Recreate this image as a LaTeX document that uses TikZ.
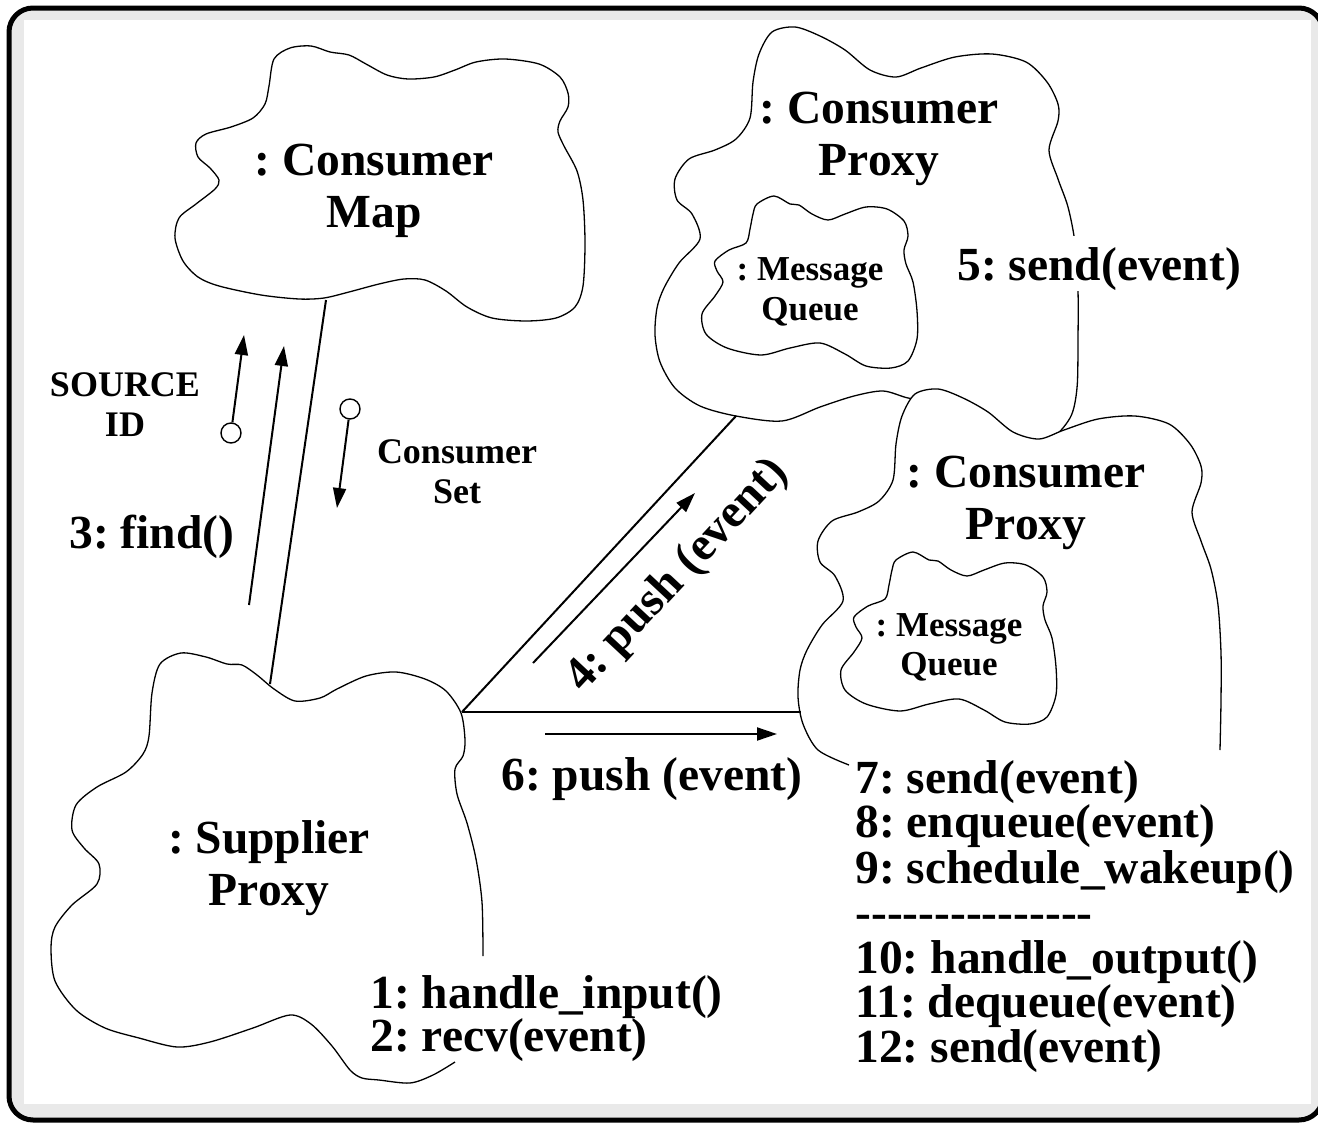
\documentclass[tikz,border=0pt]{standalone}
\usepackage{fontspec}
\setmainfont{Liberation Serif}
\usetikzlibrary{arrows.meta}
\definecolor{frameshade}{HTML}{E9E9E9}
\frenchspacing
\tikzset{
  lblbig/.style={font=\fontsize{23.75}{28}\selectfont\bfseries\frenchspacing, inner sep=0pt, anchor=base},
  lblsmall/.style={font=\fontsize{18}{21}\selectfont\bfseries\frenchspacing, inner sep=0pt, anchor=base},
  lblmq/.style={font=\fontsize{17.5}{21}\selectfont\bfseries\frenchspacing, inner sep=0pt, anchor=base},
  cloudline/.style={line width=0.65pt},
  conn/.style={line width=1pt},
  arr/.style={line width=1pt, -{Triangle[length=10pt,width=6.5pt]}},
  dot/.style={circle, draw, line width=0.7pt, minimum size=10pt, inner sep=0pt, fill=white},
}
\begin{document}
\begin{tikzpicture}[x=0.5pt,y=-0.5pt]
\useasboundingbox (0,0) rectangle (1318,1124);
% frame
\draw[line width=2.5pt, fill=frameshade, rounded corners=12pt] (9,8) rectangle (1323,1120);
\fill[white] (24,20) rectangle (1311,1104);

% Consumer Map cloud
\draw[cloudline] plot[smooth cycle] coordinates {
 (274,59) (290,48) (311,46) (330,52) (349,55) (366,64) (387,75) (408,79) (434,77) (455,70)
 (476,62) (505,59) (539,64) (560,77) (568,93) (568,107) (560,121) (558,132) (564,146)
 (577,171) (583,200) (585,243) (583,286) (575,307) (556,318) (526,321) (492,318) (467,307)
 (446,291) (425,280) (404,279) (379,284) (349,292) (324,298) (299,299) (261,295) (219,286)
 (198,277) (183,261) (175,238) (179,218) (196,204) (215,189) (219,180) (210,168) (198,157)
 (196,143) (206,134) (231,127) (253,118) (265,104) (269,86)};

% Consumer Proxy 1 cloud (closed)
\filldraw[cloudline, fill=white] plot[smooth cycle] coordinates {
 (700,406) (675,388) (660,362) (655,335) (657,308) (664,288) (679,263) (700,239) (692,214)
 (677,200) (675,179) (689,159) (715,150) (736,139) (750,118) (753,82) (759,54) (772,32)
 (795,27) (820,36) (845,50) (870,70) (896,77) (921,68) (955,57) (992,54) (1026,62) (1047,82)
 (1058,104) (1058,121) (1049,150) (1058,179) (1068,207) (1075,243) (1078,291) (1078,339)
 (1077,388) (1070,418) (1047,441) (1010,436) (970,418) (935,402) (908,398) (883,391)
 (854,396) (820,407) (782,421) (736,416)};

% Message Queue 1
\filldraw[cloudline, fill=white] plot[smooth cycle] coordinates {
 (757,204) (774,196) (790,204) (799,205) (812,214) (828,220) (845,214) (866,207) (887,209)
 (904,221) (908,236) (904,250) (906,264) (913,282) (917,311) (917,339) (908,361) (891,368)
 (866,366) (845,354) (820,343) (790,348) (761,355) (727,348) (706,334) (702,314) (715,296)
 (723,282) (717,271) (715,261) (729,250) (746,243) (750,229) (753,214)};

% Consumer Proxy 2 cloud (open at the bottom)
\begin{scope}[shift={(143,362)}]
\fill[white] plot[smooth cycle] coordinates {
 (700,406) (675,388) (660,362) (655,335) (657,308) (664,288) (679,263) (700,239) (692,214)
 (677,200) (675,179) (689,159) (715,150) (736,139) (750,118) (753,82) (759,54) (772,32)
 (795,27) (820,36) (845,50) (870,70) (896,77) (921,68) (955,57) (992,54) (1026,62) (1047,82)
 (1058,104) (1058,121) (1049,150) (1058,179) (1068,207) (1075,243) (1078,291) (1078,339)
 (1077,388) (1070,418) (1047,441) (1010,436) (970,418) (935,402) (908,398) (883,391)
 (854,396) (820,407) (782,421) (736,416)};
\draw[cloudline] plot[smooth] coordinates {
 (706,403) (675,388) (660,362) (655,335) (657,308) (664,288) (679,263) (700,239) (692,214)
 (677,200) (675,179) (689,159) (715,150) (736,139) (750,118) (753,82) (759,54) (772,32)
 (795,27) (820,36) (845,50) (870,70) (896,77) (921,68) (955,57) (992,54) (1026,62) (1047,82)
 (1058,104) (1058,121) (1049,150) (1058,179) (1068,207) (1075,243) (1078,291) (1078,339)
 (1077,388)};
\end{scope}

% Message Queue 2
\begin{scope}[shift={(139,356)}]
\filldraw[cloudline, fill=white] plot[smooth cycle] coordinates {
 (757,204) (774,196) (790,204) (799,205) (812,214) (828,220) (845,214) (866,207) (887,209)
 (904,221) (908,236) (904,250) (906,264) (913,282) (917,311) (917,339) (908,361) (891,368)
 (866,366) (845,354) (820,343) (790,348) (761,355) (727,348) (706,334) (702,314) (715,296)
 (723,282) (717,271) (715,261) (729,250) (746,243) (750,229) (753,214)};
\end{scope}

% Supplier Proxy cloud (open)
\draw[cloudline] plot[smooth] coordinates {
 (455,1062) (433,1075) (410,1083) (379,1080) (362,1078) (350,1070) (332,1046) (311,1024)
 (290,1015) (253,1028) (210,1042) (177,1047) (139,1038) (105,1028) (76,1010) (55,981)
 (51,948) (55,927) (72,905) (97,884) (99,864) (84,848) (72,830) (76,805) (97,787) (126,772)
 (143,754) (149,736) (152,693) (160,664) (181,653) (206,657) (227,664) (242,665) (257,675)
 (274,689) (295,701) (320,698) (337,689) (366,676) (396,672) (425,679) (446,691) (461,713)
 (465,740) (463,756) (455,769) (457,794) (467,823) (476,859) (482,902) (483,956)};

% connection points
\coordinate (mapS) at (326,300);
\coordinate (supN) at (270,684);
\coordinate (supE) at (462,712);
\coordinate (cpAS) at (736,416);
\coordinate (cpBW) at (801,712);
\coordinate (findS) at (249,605);
\coordinate (findT) at (284,346);
\coordinate (srcT) at (244,335);
\coordinate (setT) at (337,508);
\coordinate (pushAS) at (533,663);
\coordinate (pushAT) at (695,493);
\coordinate (pushBS) at (545,734);
\coordinate (pushBT) at (777,734);
\node[dot] (srcdot) at (231,433) {};
\node[dot] (setdot) at (350,409) {};

% links and message arrows
\draw[conn] (mapS) -- (supN);
\draw[conn] (supE) -- (cpAS);
\draw[conn] (supE) -- (cpBW);
\draw[arr] (findS) -- (findT);
\draw[arr] (srcdot) -- (srcT);
\draw[arr] (setdot) -- (setT);
\draw[arr] (pushAS) -- (pushAT);
\draw[arr] (pushBS) -- (pushBT);

% object labels
\node[lblbig] (cmap1) at (374,175) {: Consumer};
\node[lblbig] (cmap2) at (374,227) {Map};
\node[lblbig] (cpa1) at (879,123) {: Consumer};
\node[lblbig] (cpa2) at (879,175) {Proxy};
\node[lblmq] (mqa1) at (810,280) {: Message};
\node[lblmq] (mqa2) at (810,320) {Queue};
\node[lblbig] (cpb1) at (1026,487) {: Consumer};
\node[lblbig] (cpb2) at (1026,539) {Proxy};
\node[lblmq] (mqb1) at (949,636) {: Message};
\node[lblmq] (mqb2) at (949,675) {Queue};
\node[lblbig] (sup1) at (269,853) {: Supplier};
\node[lblbig] (sup2) at (269,905) {Proxy};

% message labels
\node[lblbig, anchor=base west, fill=white, text height=22pt, text depth=5.5pt] (m5) at (957,280) {5: send(event)};
\node[lblbig, anchor=base west] (m3) at (69,548) {3: find()};
\node[lblsmall] (src1) at (125,396) {SOURCE};
\node[lblsmall] (src2) at (125,436) {ID};
\node[lblsmall] (cset1) at (457,463) {Consumer};
\node[lblsmall] (cset2) at (457,503) {Set};
\node[lblbig, anchor=center, rotate=47] (m4) at (678,576) {4: push (event)};
\node[lblbig, anchor=base west] (m6) at (501,790) {6: push (event)};
\node[lblbig, anchor=base west] (m1) at (370,1008) {1: handle\_input()};
\node[lblbig, anchor=base west] (m2) at (370,1051) {2: recv(event)};
\node[lblbig, anchor=base west] (m7) at (855,793) {7: send(event)};
\node[lblbig, anchor=base west] (m8) at (855,837) {8: enqueue(event)};
\node[lblbig, anchor=base west] (m9) at (855,883) {9: schedule\_wakeup()};
\node[lblbig, anchor=base west] (mdash) at (855,928) {\hbox{-}\hbox{-}\hbox{-}\hbox{-}\hbox{-}\hbox{-}\hbox{-}\hbox{-}\hbox{-}\hbox{-}\hbox{-}\hbox{-}\hbox{-}\hbox{-}\hbox{-}};
\node[lblbig, anchor=base west] (m10) at (855,973) {10: handle\_output()};
\node[lblbig, anchor=base west] (m11) at (855,1017) {11: dequeue(event)};
\node[lblbig, anchor=base west] (m12) at (855,1062) {12: send(event)};
\end{tikzpicture}
\end{document}
